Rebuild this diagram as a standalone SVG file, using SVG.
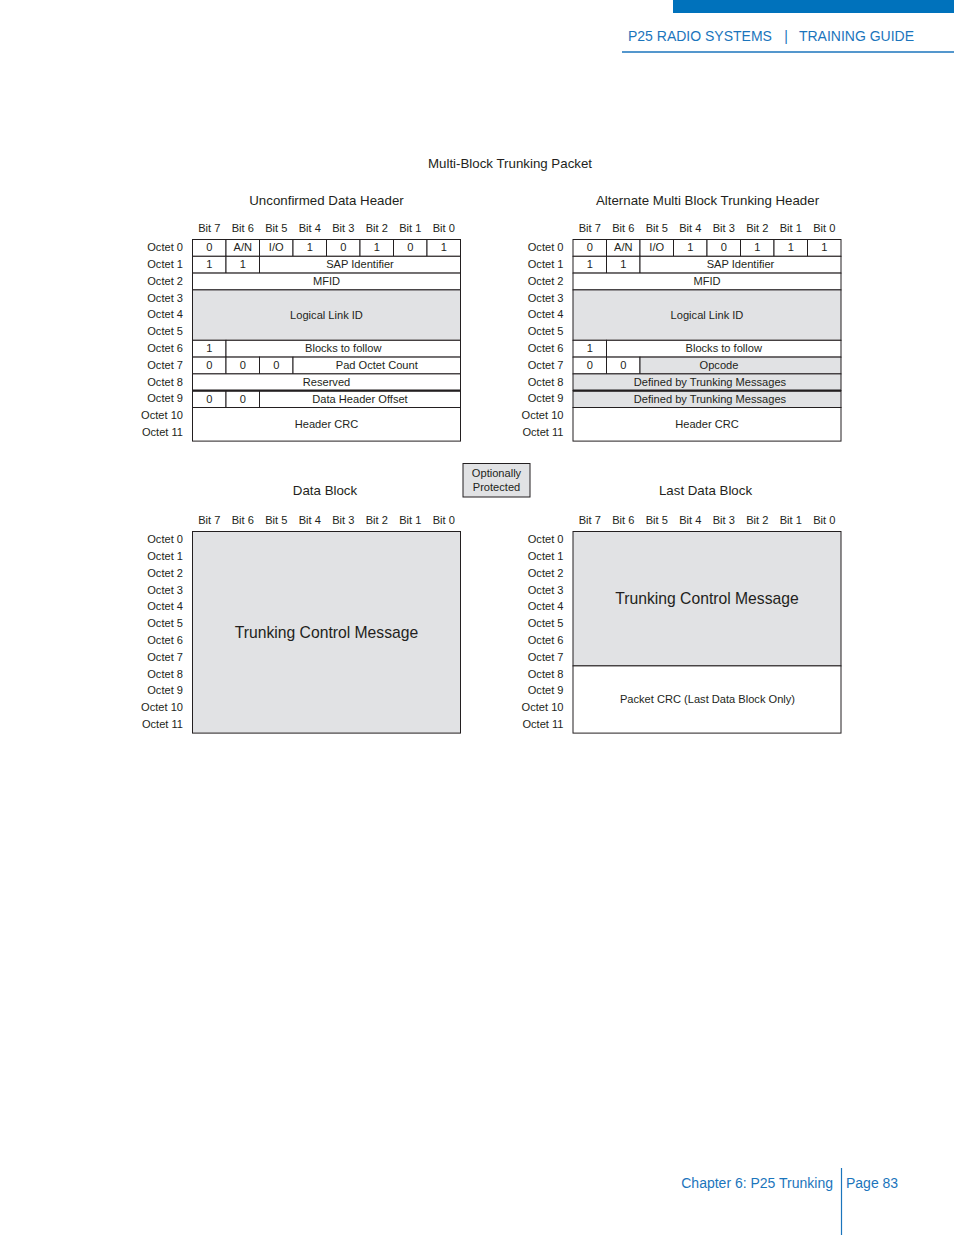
<svg xmlns="http://www.w3.org/2000/svg" width="954" height="1235" viewBox="0 0 954 1235">
<style>
text{font-family:"Liberation Sans",Arial,sans-serif;fill:#231f20}
.t{font-size:11.1px;text-anchor:middle}
.o{font-size:11.1px;text-anchor:end}
.h{font-size:13.3px;text-anchor:middle}
.big{font-size:15.7px;text-anchor:middle}
.c{fill:#fff;stroke:#231f20;stroke-width:1}
.g{fill:#e1e2e4;stroke:#231f20;stroke-width:1}
.thick{stroke:#231f20;stroke-width:2.2}
.blue{fill:#1b75bc;font-size:14px}
</style>
<defs>
<g id="bits">
<text class="t" x="16.75" y="-7.8">Bit 7</text><text class="t" x="50.25" y="-7.8">Bit 6</text><text class="t" x="83.75" y="-7.8">Bit 5</text><text class="t" x="117.25" y="-7.8">Bit 4</text><text class="t" x="150.75" y="-7.8">Bit 3</text><text class="t" x="184.25" y="-7.8">Bit 2</text><text class="t" x="217.75" y="-7.8">Bit 1</text><text class="t" x="251.25" y="-7.8">Bit 0</text>
</g>
<g id="octets">
<text class="o" x="-9.5" y="11.6">Octet 0</text><text class="o" x="-9.5" y="28.4">Octet 1</text><text class="o" x="-9.5" y="45.2">Octet 2</text><text class="o" x="-9.5" y="62">Octet 3</text><text class="o" x="-9.5" y="78.8">Octet 4</text><text class="o" x="-9.5" y="95.6">Octet 5</text><text class="o" x="-9.5" y="112.4">Octet 6</text><text class="o" x="-9.5" y="129.2">Octet 7</text><text class="o" x="-9.5" y="146">Octet 8</text><text class="o" x="-9.5" y="162.8">Octet 9</text><text class="o" x="-9.5" y="179.6">Octet 10</text><text class="o" x="-9.5" y="196.4">Octet 11</text>
</g>
</defs>

<g id="page-header">
<rect x="673" y="0" width="281" height="13" fill="#0072bc"/>
<text class="blue" x="628" y="41">P25 RADIO SYSTEMS</text>
<text class="blue" x="786" y="41" text-anchor="middle">|</text>
<text class="blue" x="914" y="41" text-anchor="end">TRAINING GUIDE</text>
<line x1="622" y1="52" x2="954" y2="52" stroke="#1b75bc" stroke-width="1.3"/>
</g>

<g id="titles">
<text class="h" x="510" y="168">Multi-Block Trunking Packet</text>
<text class="h" x="326.5" y="205">Unconfirmed Data Header</text>
<text class="h" x="707.5" y="205">Alternate Multi Block Trunking Header</text>
<text class="h" x="325" y="495">Data Block</text>
<text class="h" x="705.5" y="495">Last Data Block</text>
</g>

<g id="unconfirmed-data-header" transform="translate(192.5,239.5)">
<use href="#bits"/><use href="#octets"/>
<rect class="c" x="0" y="0" width="33.5" height="16.8"/><rect class="c" x="33.5" y="0" width="33.5" height="16.8"/><rect class="c" x="67" y="0" width="33.5" height="16.8"/><rect class="c" x="100.5" y="0" width="33.5" height="16.8"/><rect class="c" x="134" y="0" width="33.5" height="16.8"/><rect class="c" x="167.5" y="0" width="33.5" height="16.8"/><rect class="c" x="201" y="0" width="33.5" height="16.8"/><rect class="c" x="234.5" y="0" width="33.5" height="16.8"/>
<text class="t" x="16.75" y="11.8">0</text><text class="t" x="50.25" y="11.8">A/N</text><text class="t" x="83.75" y="11.8">I/O</text><text class="t" x="117.25" y="11.8">1</text><text class="t" x="150.75" y="11.8">0</text><text class="t" x="184.25" y="11.8">1</text><text class="t" x="217.75" y="11.8">0</text><text class="t" x="251.25" y="11.8">1</text>
<rect class="c" x="0" y="16.8" width="33.5" height="16.8"/><rect class="c" x="33.5" y="16.8" width="33.5" height="16.8"/><rect class="c" x="67" y="16.8" width="201" height="16.8"/>
<text class="t" x="16.75" y="28.6">1</text><text class="t" x="50.25" y="28.6">1</text><text class="t" x="167.5" y="28.6">SAP Identifier</text>
<rect class="c" x="0" y="33.6" width="268" height="16.8"/><text class="t" x="134" y="45.4">MFID</text>
<rect class="g" x="0" y="50.4" width="268" height="50.4"/><text class="t" x="134" y="79">Logical Link ID</text>
<rect class="c" x="0" y="100.8" width="33.5" height="16.8"/><rect class="c" x="33.5" y="100.8" width="234.5" height="16.8"/>
<text class="t" x="16.75" y="112.6">1</text><text class="t" x="150.75" y="112.6">Blocks to follow</text>
<rect class="c" x="0" y="117.6" width="33.5" height="16.8"/><rect class="c" x="33.5" y="117.6" width="33.5" height="16.8"/><rect class="c" x="67" y="117.6" width="33.5" height="16.8"/><rect class="c" x="100.5" y="117.6" width="167.5" height="16.8"/>
<text class="t" x="16.75" y="129.4">0</text><text class="t" x="50.25" y="129.4">0</text><text class="t" x="83.75" y="129.4">0</text><text class="t" x="184.25" y="129.4">Pad Octet Count</text>
<rect class="c" x="0" y="134.4" width="268" height="16.8"/><text class="t" x="134" y="146.2">Reserved</text>
<rect class="c" x="0" y="151.2" width="33.5" height="16.8"/><rect class="c" x="33.5" y="151.2" width="33.5" height="16.8"/><rect class="c" x="67" y="151.2" width="201" height="16.8"/>
<text class="t" x="16.75" y="163">0</text><text class="t" x="50.25" y="163">0</text><text class="t" x="167.5" y="163">Data Header Offset</text>
<line class="thick" x1="0" y1="151.2" x2="268" y2="151.2"/>
<rect class="c" x="0" y="168" width="268" height="33.6"/><text class="t" x="134" y="188">Header CRC</text>
</g>

<g id="alternate-mbt-header" transform="translate(573,239.5)">
<use href="#bits"/><use href="#octets"/>
<rect class="c" x="0" y="0" width="33.5" height="16.8"/><rect class="c" x="33.5" y="0" width="33.5" height="16.8"/><rect class="c" x="67" y="0" width="33.5" height="16.8"/><rect class="c" x="100.5" y="0" width="33.5" height="16.8"/><rect class="c" x="134" y="0" width="33.5" height="16.8"/><rect class="c" x="167.5" y="0" width="33.5" height="16.8"/><rect class="c" x="201" y="0" width="33.5" height="16.8"/><rect class="c" x="234.5" y="0" width="33.5" height="16.8"/>
<text class="t" x="16.75" y="11.8">0</text><text class="t" x="50.25" y="11.8">A/N</text><text class="t" x="83.75" y="11.8">I/O</text><text class="t" x="117.25" y="11.8">1</text><text class="t" x="150.75" y="11.8">0</text><text class="t" x="184.25" y="11.8">1</text><text class="t" x="217.75" y="11.8">1</text><text class="t" x="251.25" y="11.8">1</text>
<rect class="c" x="0" y="16.8" width="33.5" height="16.8"/><rect class="c" x="33.5" y="16.8" width="33.5" height="16.8"/><rect class="c" x="67" y="16.8" width="201" height="16.8"/>
<text class="t" x="16.75" y="28.6">1</text><text class="t" x="50.25" y="28.6">1</text><text class="t" x="167.5" y="28.6">SAP Identifier</text>
<rect class="c" x="0" y="33.6" width="268" height="16.8"/><text class="t" x="134" y="45.4">MFID</text>
<rect class="g" x="0" y="50.4" width="268" height="50.4"/><text class="t" x="134" y="79">Logical Link ID</text>
<rect class="c" x="0" y="100.8" width="33.5" height="16.8"/><rect class="c" x="33.5" y="100.8" width="234.5" height="16.8"/>
<text class="t" x="16.75" y="112.6">1</text><text class="t" x="150.75" y="112.6">Blocks to follow</text>
<rect class="c" x="0" y="117.6" width="33.5" height="16.8"/><rect class="c" x="33.5" y="117.6" width="33.5" height="16.8"/><rect class="g" x="67" y="117.6" width="201" height="16.8"/>
<text class="t" x="16.75" y="129.4">0</text><text class="t" x="50.25" y="129.4">0</text><text class="t" x="146" y="129.4">Opcode</text>
<rect class="g" x="0" y="134.4" width="268" height="16.8"/><text class="t" x="137" y="146.2">Defined by Trunking Messages</text>
<rect class="g" x="0" y="151.2" width="268" height="16.8"/><text class="t" x="137" y="163">Defined by Trunking Messages</text>
<line class="thick" x1="0" y1="151.2" x2="268" y2="151.2"/>
<rect class="c" x="0" y="168" width="268" height="33.6"/><text class="t" x="134" y="188">Header CRC</text>
</g>

<g id="optionally-protected">
<rect x="463" y="463.5" width="67" height="33.5" fill="#e1e2e4" stroke="#231f20" stroke-width="1"/>
<text class="t" x="496.5" y="477">Optionally</text>
<text class="t" x="496.5" y="491">Protected</text>
</g>

<g id="data-block" transform="translate(192.5,531.5)">
<use href="#bits"/><use href="#octets"/>
<rect class="g" x="0" y="0" width="268" height="201.6"/>
<text class="big" x="134" y="106">Trunking Control Message</text>
</g>

<g id="last-data-block" transform="translate(573,531.5)">
<use href="#bits"/><use href="#octets"/>
<rect class="g" x="0" y="0" width="268" height="134.4"/>
<text class="big" x="134" y="72">Trunking Control Message</text>
<rect class="c" x="0" y="134.4" width="268" height="67.2"/>
<text class="t" x="134.5" y="171">Packet CRC (Last Data Block Only)</text>
</g>

<g id="connectors"/>

<g id="page-footer">
<text class="blue" x="833" y="1188" text-anchor="end">Chapter 6: P25 Trunking</text>
<line x1="841.5" y1="1168" x2="841.5" y2="1235" stroke="#1b75bc" stroke-width="1.2"/>
<text class="blue" x="846" y="1188">Page 83</text>
</g>
</svg>
